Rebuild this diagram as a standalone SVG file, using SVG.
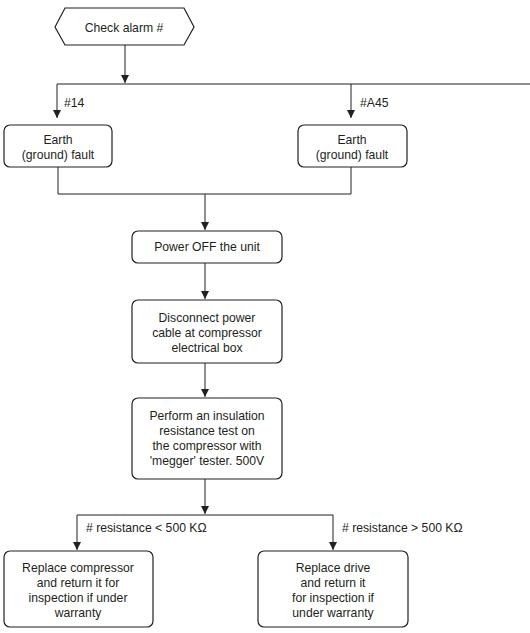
<svg xmlns="http://www.w3.org/2000/svg" width="530" height="633" viewBox="0 0 530 633">
<style>
.box{fill:#fff;stroke:#231f20;stroke-width:1.2}
.ln{fill:none;stroke:#231f20;stroke-width:1}
text{font-family:"Liberation Sans",Arial,sans-serif;font-size:12.2px;fill:#231f20}
.c{text-anchor:middle}
</style>
<defs>
<marker id="ah" viewBox="0 0 8 10" refX="8" refY="5" markerWidth="8" markerHeight="10" markerUnits="userSpaceOnUse" orient="auto">
<path d="M0,1 L8,5 L0,9 Z" fill="#231f20"/>
</marker>
</defs>
<rect width="530" height="633" fill="#fff"/>
<g id="connectors">
<path class="ln" d="M125,45 V83" marker-end="url(#ah)"/>
<path class="ln" d="M57,84 H530"/>
<path class="ln" d="M57,84 V118" marker-end="url(#ah)"/>
<path class="ln" d="M351,84 V118" marker-end="url(#ah)"/>
<text x="64" y="107">#14</text>
<text x="360" y="107">#A45</text>
<path class="ln" d="M58,167 V194 H351 V167"/>
<path class="ln" d="M205,194 V230" marker-end="url(#ah)"/>
<path class="ln" d="M205,263 V299" marker-end="url(#ah)"/>
<path class="ln" d="M205,363 V397" marker-end="url(#ah)"/>
<path class="ln" d="M205,479 V514" marker-end="url(#ah)"/>
<path class="ln" d="M77,515 H333"/>
<path class="ln" d="M77,515 V550" marker-end="url(#ah)"/>
<path class="ln" d="M333,515 V550" marker-end="url(#ah)"/>
<text x="86" y="532"># resistance &lt; 500 KΩ</text>
<text x="342" y="532"># resistance &gt; 500 KΩ</text>
</g>
<g id="n-check">
<polygon class="box" points="55,27 65,8 184,8 194,27 184,45 65,45"/>
<text class="c" x="124" y="32">Check alarm #</text>
</g>
<g id="n-earth14">
<rect class="box" x="4" y="125" width="108" height="42" rx="6"/>
<text class="c" x="58" y="144">Earth</text>
<text class="c" x="58" y="159">(ground) fault</text>
</g>
<g id="n-earthA45">
<rect class="box" x="298" y="125" width="109" height="42" rx="6"/>
<text class="c" x="352" y="144">Earth</text>
<text class="c" x="352" y="159">(ground) fault</text>
</g>
<g id="n-power">
<rect class="box" x="132" y="231" width="150" height="32" rx="6"/>
<text class="c" x="207" y="251">Power OFF the unit</text>
</g>
<g id="n-disconnect">
<rect class="box" x="132" y="300" width="150" height="63" rx="6"/>
<text class="c" x="207" y="322">Disconnect power</text>
<text class="c" x="207" y="337">cable at compressor</text>
<text class="c" x="207" y="352">electrical box</text>
</g>
<g id="n-test">
<rect class="box" x="132" y="398" width="150" height="81" rx="6"/>
<text class="c" x="207" y="420">Perform an insulation</text>
<text class="c" x="207" y="435">resistance test on</text>
<text class="c" x="207" y="450">the compressor with</text>
<text class="c" x="207" y="465">'megger' tester. 500V</text>
</g>
<g id="n-replcomp">
<rect class="box" x="4" y="551" width="149" height="76" rx="6"/>
<text class="c" x="78" y="572">Replace compressor</text>
<text class="c" x="78" y="587">and return it for</text>
<text class="c" x="78" y="602">inspection if under</text>
<text class="c" x="78" y="617">warranty</text>
</g>
<g id="n-repldrive">
<rect class="box" x="258" y="551" width="150" height="76" rx="6"/>
<text class="c" x="333" y="572">Replace drive</text>
<text class="c" x="333" y="587">and return it</text>
<text class="c" x="333" y="602">for inspection if</text>
<text class="c" x="333" y="617">under warranty</text>
</g>
</svg>
